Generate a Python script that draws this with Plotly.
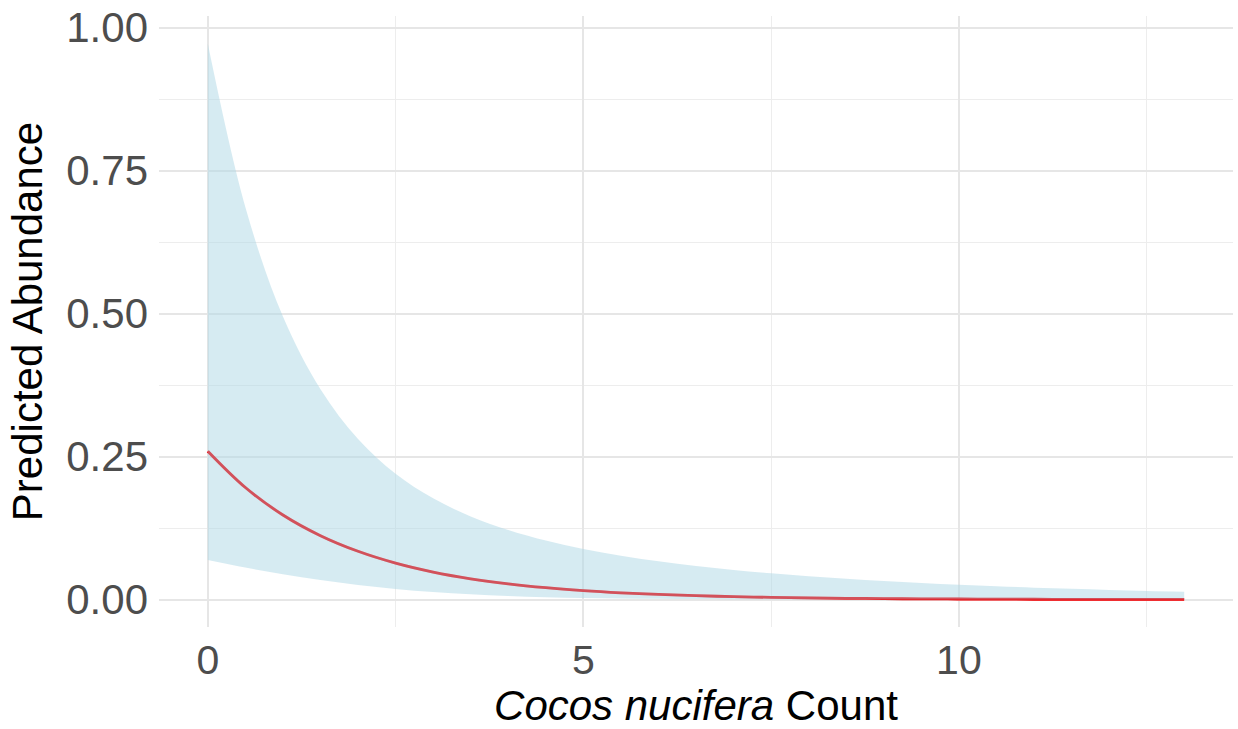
import plotly.graph_objects as go

# Cocos nucifera count (x) and predicted abundance with confidence band
count = [0, 0.5, 1, 1.5, 2, 2.5, 3, 3.5, 4, 4.5, 5, 5.5, 6, 6.5, 7, 7.5,
         8, 8.5, 9, 9.5, 10, 10.5, 11, 11.5, 12, 12.5, 13]
predicted = [0.2594, 0.1959, 0.1479, 0.1117, 0.0844, 0.0637, 0.0481, 0.0363,
             0.0274, 0.0207, 0.01565, 0.01182, 0.00892, 0.00674, 0.00509,
             0.00384, 0.00290, 0.00219, 0.00166, 0.00125, 0.000944, 0.000713,
             0.000538, 0.000406, 0.000307, 0.000232, 0.000175]
upper = [0.972, 0.686, 0.495, 0.368, 0.281, 0.220, 0.177, 0.1453, 0.1216,
         0.1031, 0.0885, 0.0767, 0.0669, 0.0587, 0.0518, 0.0459, 0.0407,
         0.0362, 0.0323, 0.0289, 0.0259, 0.0232, 0.0208, 0.0187, 0.0168,
         0.0151, 0.0136]
lower = [0.0692, 0.0560, 0.0442, 0.0340, 0.0254, 0.01845, 0.01308, 0.00908,
         0.00619, 0.00416, 0.00277, 0.00182, 0.00119, 0.00077, 0.00050,
         0.00032, 0.00021, 0.00013, 0.000085, 0.000054, 0.000035, 0.000022,
         0.000014, 0.0000088, 0.0000056, 0.0000036, 0.0000023]

x_ticks = [0, 5, 10]
y_ticks = [0, 0.25, 0.5, 0.75, 1.0]
y_tick_labels = ["0.00", "0.25", "0.50", "0.75", "1.00"]

fig = go.Figure()

# prediction line (drawn first, ribbon over it)
fig.add_trace(go.Scatter(
    x=count, y=predicted, mode="lines", line=dict(color="#FF0000", width=2.8, shape="spline"),
    showlegend=False, hoverinfo="skip"))

fig.add_trace(go.Scatter(
    x=count, y=lower, mode="lines", line=dict(width=0, shape="spline"),
    showlegend=False, hoverinfo="skip"))
fig.add_trace(go.Scatter(
    x=count, y=upper, mode="lines", line=dict(width=0, shape="spline"),
    fill="tonexty", fillcolor="rgba(173,216,230,0.5)",
    showlegend=False, hoverinfo="skip"))

# faint overlay to deepen the line tint under the ribbon
fig.add_trace(go.Scatter(
    x=count, y=predicted, mode="lines", line=dict(color="rgba(200,0,20,0.25)", width=2.8, shape="spline"),
    showlegend=False, hoverinfo="skip"))

grid_major = "#E6E6E6"
grid_minor = "#EDEDED"
fig.update_layout(
    width=1238, height=729,
    margin=dict(l=159, r=5, t=12, b=102),
    plot_bgcolor="white", paper_bgcolor="white",
    font=dict(family="Liberation Sans, Arial, sans-serif", color="black"),
    xaxis=dict(
        range=[-0.65, 13.65], tickvals=x_ticks, ticktext=[str(v) for v in x_ticks],
        showgrid=True, gridcolor=grid_major, gridwidth=2,
        minor=dict(dtick=2.5, tick0=0, showgrid=True, gridcolor=grid_minor, gridwidth=1),
        zeroline=False, showline=False, ticks="",
        tickfont=dict(size=41, color="#4D4D4D"),
        ticklabelstandoff=5,
        title=dict(text="<i>Cocos nucifera</i> Count", font=dict(size=42, color="black"), standoff=8),
    ),
    yaxis=dict(
        range=[-0.048, 1.0206], tickvals=y_ticks, ticktext=y_tick_labels,
        showgrid=True, gridcolor=grid_major, gridwidth=2,
        minor=dict(dtick=0.125, tick0=0, showgrid=True, gridcolor=grid_minor, gridwidth=1),
        zeroline=False, showline=False, ticks="",
        tickfont=dict(size=42, color="#4D4D4D"),
        ticklabelstandoff=10,
        title=dict(text="Predicted Abundance", font=dict(size=42, color="black"), standoff=10),
    ),
)

fig.write_html("out.html")
